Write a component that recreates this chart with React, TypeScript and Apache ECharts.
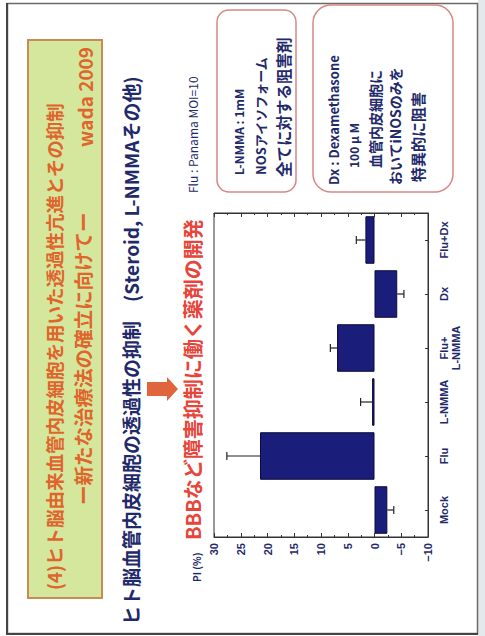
import React, { useEffect, useRef } from "react";
import * as echarts from "echarts";

const categories = ["Mock", "Flu", "L-NMMA", "Flu+\nL-NMMA", "Dx", "Flu+Dx"];
const piValues = [-2.4, 21.4, 0.45, 7.0, -4.25, 1.7];
const errorEnds = [-3.6, 27.6, 2.6, 8.25, -5.5, 3.4];
const axisMin = -10;
const axisMax = 30;
const axisStep = 5;

const NAVY = "#1f2a6b";
const CJK = "'Noto Sans CJK JP', 'Noto Sans', sans-serif";
const NARROW = "'Liberation Sans Narrow', 'Liberation Sans', 'Noto Sans', sans-serif";
const R = Math.PI / 2;

function vtext(x: number, y: number, text: string, fontSize: number, fill: string, extra: any = {}) {
  return {
    type: "text",
    x,
    y,
    rotation: R,
    style: {
      text,
      fontSize,
      fontWeight: "bold",
      fontFamily: CJK,
      fill,
      align: "left",
      verticalAlign: "middle",
      ...extra,
    },
  };
}

export default function App() {
  const ref = useRef<HTMLDivElement>(null);
  useEffect(() => {
    if (!ref.current) return;
    const chart = echarts.init(ref.current, undefined, { renderer: "svg" });
    const fmt = (v: number) => (v < 0 ? "\u2212" + Math.abs(v) : String(v));
    const option: any = {
      animation: false,
      backgroundColor: "#ffffff",
      grid: {
        left: 214,
        top: 213,
        width: 214,
        height: 324,
        show: true,
        borderColor: "#333",
        borderWidth: 1,
        backgroundColor: "transparent",
      },
      xAxis: [
        {
          type: "value",
          min: axisMin,
          max: axisMax,
          interval: axisStep,
          inverse: true,
          position: "bottom",
          splitLine: { show: false },
          axisLine: { show: true, lineStyle: { color: "#333", width: 1 } },
          axisTick: { show: true, inside: true, length: 4, lineStyle: { color: "#333" } },
          minorTick: { show: true, splitNumber: 2, length: 2, lineStyle: { color: "#333" } },
          axisLabel: {
            rotate: 90,
            margin: 6,
            fontSize: 11,
            fontWeight: "bold",
            color: NAVY,
            fontFamily: NARROW,
            formatter: fmt,
          },
        },
        {
          type: "value",
          min: axisMin,
          max: axisMax,
          interval: axisStep,
          inverse: true,
          position: "top",
          splitLine: { show: false },
          axisLine: { show: true, lineStyle: { color: "#333", width: 1 } },
          axisTick: { show: true, inside: true, length: 4, lineStyle: { color: "#333" } },
          minorTick: { show: true, splitNumber: 2, length: 2, lineStyle: { color: "#333" } },
          axisLabel: { show: false },
        },
      ],
      yAxis: {
        type: "category",
        data: categories,
        position: "right",
        axisLine: { show: true, onZero: false, lineStyle: { color: "#333", width: 1 } },
        axisTick: { show: true, inside: true, alignWithLabel: true, interval: 0, length: 3, lineStyle: { color: "#333" } },
        axisLabel: {
          interval: 0,
          rotate: 90,
          margin: 10,
          fontSize: 11,
          fontWeight: "bold",
          color: NAVY,
          fontFamily: NARROW,
          lineHeight: 12,
        },
      },
      series: [
        {
          type: "bar",
          data: piValues,
          xAxisIndex: 0,
          barWidth: "88%",
          itemStyle: { color: "#1b1d7a", borderColor: "#0b0b3a", borderWidth: 1 },
          z: 2,
        },
        {
          type: "custom",
          xAxisIndex: 0,
          z: 3,
          data: categories.map((_, i) => [i, piValues[i], errorEnds[i]]),
          encode: { x: [1, 2], y: 0 },
          renderItem: (params: any, api: any) => {
            const cat = api.value(0);
            const v = api.value(1);
            const e = api.value(2);
            const p0 = api.coord([v, cat]);
            const p1 = api.coord([e, cat]);
            const st = { stroke: "#222", lineWidth: 1.2 };
            return {
              type: "group",
              children: [
                { type: "line", shape: { x1: p0[0], y1: p0[1], x2: p1[0], y2: p1[1] }, style: st },
                { type: "line", shape: { x1: p1[0], y1: p1[1] - 4, x2: p1[0], y2: p1[1] + 4 }, style: st },
              ],
            };
          },
        },
      ],
      graphic: [
        { type: "rect", shape: { x: 478, y: 0, width: 7, height: 636 }, style: { fill: "#e4eaec" }, silent: true },
        { type: "rect", shape: { x: 7.5, y: 3.5, width: 470, height: 630 }, style: { fill: "none", stroke: "#6a6a6a", lineWidth: 1.5 }, silent: true },
        { type: "line", shape: { x1: 7, y1: 3, x2: 7, y2: 635 }, style: { stroke: "#444", lineWidth: 2 }, silent: true },
        { type: "line", shape: { x1: 7, y1: 634, x2: 478, y2: 634 }, style: { stroke: "#444", lineWidth: 2 }, silent: true },
        { type: "rect", shape: { x: 28, y: 40, width: 74, height: 558 }, style: { fill: "#d5e79d", stroke: "#c98a55", lineWidth: 2 }, silent: true },
        vtext(54, 590, "(4)ヒト脳由来血管内皮細胞を用いた透過性亢進とその抑制", 18.5, "#e0652c"),
        vtext(82, 505, "ー新たな治療法の確立に向けてー", 19.5, "#e0652c"),
        vtext(84, 147, "wada 2009", 19, "#e0652c"),
        vtext(130, 625, "ヒト脳血管内皮細胞の透過性の抑制　(Steroid, L-NMMAその他)", 19, NAVY),
        {
          type: "polygon",
          shape: { points: [[147, 382], [167, 382], [167, 377], [178, 389], [167, 401], [167, 396], [147, 396]] },
          style: { fill: "#e0643c" },
          silent: true,
        },
        vtext(192, 540, "BBBなど障害抑制に働く薬剤の開発", 20, "#e8453a"),
        vtext(196, 582, "PI (%)", 10, NAVY),
        vtext(192, 193, "Flu : Panama MOI=10", 12, NAVY, { fontWeight: "normal" }),
        { type: "rect", shape: { x: 217, y: 10, width: 79, height: 182, r: 12 }, style: { fill: "#fff", stroke: "#d98585", lineWidth: 1.5 }, silent: true },
        vtext(238, 175, "L-NMMA : 1mM", 12, NAVY),
        vtext(260, 175, "NOSアイソフォーム", 13, NAVY),
        vtext(283, 177, "全てに対する阻害剤", 15.5, NAVY),
        { type: "rect", shape: { x: 313, y: 5, width: 140, height: 187, r: 18 }, style: { fill: "#fff", stroke: "#d98585", lineWidth: 1.5 }, silent: true },
        vtext(333, 185, "Dx : Dexamethasone", 13, NAVY),
        vtext(353, 168, "100 μ M", 12, NAVY),
        vtext(375, 168, "血管内皮細胞に", 14, NAVY),
        vtext(395, 185, "おいてiNOSのみを", 14, NAVY),
        vtext(417, 182, "特異的に阻害", 15, NAVY),
      ],
    };
    chart.setOption(option);
    return () => chart.dispose();
  }, []);
  return (
    <div
      ref={ref}
      style={{ position: "fixed", left: 0, top: 0, width: 485, height: 636, background: "#fff" }}
    />
  );
}
